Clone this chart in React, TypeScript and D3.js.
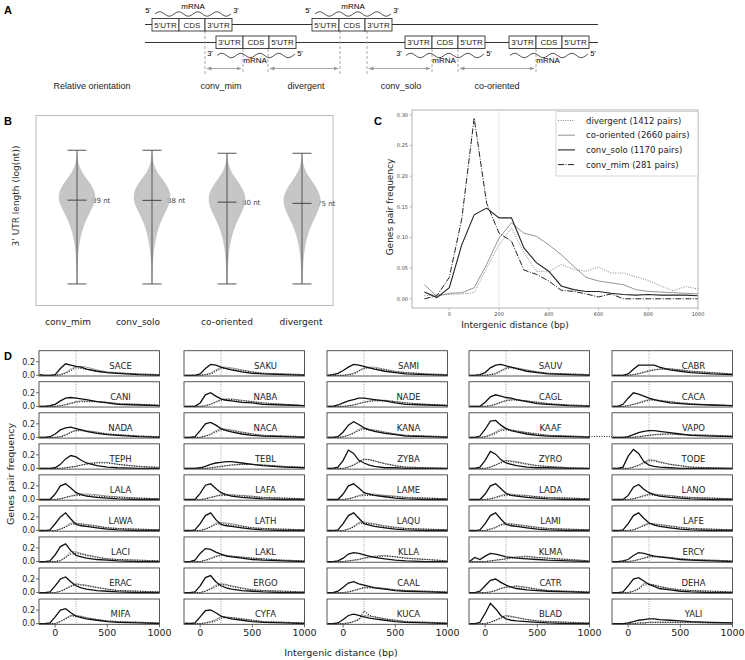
import React from "react";
import * as d3 from "d3";

// ---------- Panel B data ----------
const B_CATS = ["conv_mim", "conv_solo", "co-oriented", "divergent"];
const B_MEDIAN_NT = [89, 88, 80, 75];
const B_MAX_LOG = [3.11, 3.11, 3.04, 3.04];
const B_MIN_LOG = [0, 0, 0, 0];
const B_LEVELS = [0, 0.4, 0.8, 1.0, 1.2, 1.4, 1.6, 1.8, 2.0, 2.2, 2.4, 2.6, 2.8, 3.0, 3.1];
const B_DENS_MIM = [0.02, 0.03, 0.08, 0.15, 0.25, 0.4, 0.6, 0.85, 1.0, 0.9, 0.6, 0.25, 0.06, 0.02, 0];
const B_DENS_SOLO = [0.02, 0.03, 0.1, 0.18, 0.28, 0.42, 0.62, 0.86, 1.0, 0.92, 0.62, 0.26, 0.07, 0.02, 0];
const B_DENS_COOR = [0.02, 0.04, 0.12, 0.2, 0.32, 0.48, 0.7, 0.92, 1.0, 0.85, 0.55, 0.22, 0.05, 0.01, 0];
const B_DENS_DIV = [0.02, 0.05, 0.13, 0.22, 0.35, 0.52, 0.75, 0.95, 1.0, 0.82, 0.52, 0.2, 0.05, 0.01, 0];
const B_DENS = [B_DENS_MIM, B_DENS_SOLO, B_DENS_COOR, B_DENS_DIV];

// ---------- Panel C data ----------
const C_X = [-100, -50, 0, 50, 100, 150, 200, 250, 300, 350, 400, 450, 500, 550, 600, 650, 700, 750, 800, 850, 900, 950, 1000];
const C_DIVERGENT = [0.005, 0.007, 0.007, 0.008, 0.010, 0.050, 0.088, 0.116, 0.075, 0.045, 0.044, 0.056, 0.048, 0.045, 0.052, 0.042, 0.042, 0.036, 0.030, 0.021, 0.013, 0.020, 0.016];
const C_COORIENTED = [0.023, 0.004, 0.009, 0.010, 0.018, 0.056, 0.099, 0.124, 0.107, 0.102, 0.088, 0.072, 0.053, 0.035, 0.029, 0.026, 0.023, 0.015, 0.012, 0.011, 0.010, 0.009, 0.008];
const C_CONV_SOLO = [0.011, 0.002, 0.018, 0.088, 0.137, 0.148, 0.132, 0.132, 0.083, 0.059, 0.045, 0.021, 0.015, 0.012, 0.012, 0.009, 0.007, 0.006, 0.007, 0.006, 0.006, 0.006, 0.005];
const C_CONV_MIM = [0.0, 0.005, 0.035, 0.13, 0.295, 0.156, 0.107, 0.094, 0.047, 0.040, 0.029, 0.014, 0.012, 0.008, 0.003, 0.008, 0.0, 0.0, 0.0, 0.0, 0.0, 0.0, 0.0];
const C_LEGEND = ["divergent (1412 pairs)", "co-oriented (2660 pairs)", "conv_solo (1170 pairs)", "conv_mim (281 pairs)"];
const C_XTICKS = [0, 200, 400, 600, 800, 1000];
const C_YTICKS = [0, 0.05, 0.1, 0.15, 0.2, 0.25, 0.3];

// ---------- Panel D data (frequency in %) ----------
const D_X = [-150, -100, -50, 0, 50, 100, 150, 200, 250, 300, 400, 500, 600, 800, 1000];
const D_SPECIES = [
  "SACE", "SAKU", "SAMI", "SAUV", "CABR",
  "CANI", "NABA", "NADE", "CAGL", "CACA",
  "NADA", "NACA", "KANA", "KAAF", "VAPO",
  "TEPH", "TEBL", "ZYBA", "ZYRO", "TODE",
  "LALA", "LAFA", "LAME", "LADA", "LANO",
  "LAWA", "LATH", "LAQU", "LAMI", "LAFE",
  "LACI", "LAKL", "KLLA", "KLMA", "ERCY",
  "ERAC", "ERGO", "CAAL", "CATR", "DEHA",
  "MIFA", "CYFA", "KUCA", "BLAD", "YALI",
];
const D_CONV = [
  [1, 0, 0, 1, 10, 17, 15, 13, 12, 9, 6, 4, 3, 1, 0],
  [0, 0, 0, 2, 10, 16, 15, 12, 10, 8, 5, 3, 2, 1, 0],
  [0, 1, 3, 7, 12, 16, 15, 13, 11, 9, 6, 4, 2, 1, 0],
  [0, 0, 1, 4, 11, 15, 16, 14, 12, 10, 6, 4, 2, 1, 0],
  [0, 0, 0, 2, 9, 15, 15, 15, 15, 12, 8, 6, 4, 2, 1],
  [0, 0, 1, 3, 8, 12, 13, 12, 11, 10, 7, 5, 3, 2, 1],
  [0, 0, 0, 5, 17, 20, 15, 11, 9, 8, 6, 5, 3, 2, 1],
  [0, 0, 2, 5, 8, 10, 12, 12, 11, 10, 8, 5, 3, 2, 1],
  [0, 0, 0, 6, 14, 17, 15, 13, 12, 10, 7, 4, 3, 1, 0],
  [0, 0, 3, 12, 20, 18, 15, 12, 10, 8, 5, 4, 3, 2, 1],
  [0, 0, 1, 5, 11, 14, 15, 13, 11, 9, 6, 4, 3, 1, 0],
  [0, 0, 1, 10, 20, 22, 18, 13, 10, 8, 5, 3, 2, 1, 0],
  [0, 0, 1, 8, 18, 23, 19, 14, 11, 9, 6, 4, 2, 1, 0],
  [0, 0, 2, 12, 24, 25, 18, 13, 10, 8, 5, 3, 2, 1, 0],
  [0, 0, 0, 1, 4, 7, 9, 10, 10, 9, 7, 5, 3, 2, 1],
  [0, 0, 0, 1, 6, 14, 19, 17, 12, 8, 4, 2, 1, 0, 0],
  [0, 0, 0, 1, 3, 6, 8, 9, 10, 10, 8, 6, 4, 2, 1],
  [0, 0, 2, 12, 27, 22, 12, 8, 5, 3, 1, 1, 0, 0, 0],
  [0, 0, 2, 12, 25, 21, 13, 8, 6, 4, 2, 1, 1, 0, 0],
  [0, 0, 2, 18, 28, 22, 10, 5, 3, 2, 1, 0, 0, 0, 0],
  [0, 0, 0, 8, 20, 23, 17, 10, 7, 5, 3, 2, 1, 0, 0],
  [0, 0, 0, 9, 21, 23, 16, 10, 7, 5, 3, 2, 1, 0, 0],
  [0, 0, 0, 8, 20, 23, 17, 10, 8, 6, 4, 2, 1, 0, 0],
  [0, 0, 0, 8, 20, 23, 16, 9, 6, 5, 3, 2, 1, 0, 0],
  [0, 0, 0, 6, 18, 22, 15, 10, 7, 5, 3, 2, 1, 0, 0],
  [0, 0, 1, 10, 20, 26, 17, 9, 7, 6, 4, 2, 1, 0, 0],
  [0, 0, 1, 10, 22, 26, 16, 9, 7, 6, 4, 2, 1, 0, 0],
  [0, 0, 1, 10, 22, 26, 18, 10, 8, 6, 4, 2, 1, 0, 0],
  [0, 0, 1, 10, 22, 26, 17, 9, 7, 6, 4, 2, 1, 0, 0],
  [0, 0, 1, 10, 22, 26, 18, 11, 8, 6, 4, 2, 1, 0, 0],
  [0, 0, 1, 10, 22, 26, 16, 9, 7, 5, 3, 2, 1, 0, 0],
  [0, 0, 2, 12, 19, 18, 14, 11, 8, 7, 5, 3, 2, 1, 0],
  [0, 0, 1, 5, 11, 13, 12, 10, 8, 6, 4, 2, 1, 0, 0],
  [0, 6, 3, 8, 12, 11, 9, 7, 6, 5, 4, 3, 2, 1, 0],
  [0, 0, 1, 3, 9, 13, 12, 10, 8, 7, 5, 3, 2, 1, 0],
  [0, 0, 1, 10, 20, 23, 16, 10, 7, 5, 3, 2, 1, 0, 0],
  [0, 0, 1, 10, 22, 25, 16, 10, 7, 5, 3, 2, 1, 0, 0],
  [0, 0, 2, 8, 14, 16, 13, 11, 9, 7, 5, 3, 2, 1, 0],
  [0, 0, 2, 10, 18, 20, 15, 11, 8, 6, 4, 3, 2, 1, 0],
  [0, 0, 1, 10, 20, 22, 17, 12, 9, 6, 4, 2, 1, 0, 0],
  [0, 0, 1, 10, 20, 22, 16, 11, 9, 7, 5, 3, 2, 1, 0],
  [0, 0, 1, 10, 19, 20, 16, 11, 9, 7, 5, 3, 2, 1, 0],
  [0, 0, 1, 6, 12, 14, 12, 10, 8, 7, 5, 3, 2, 1, 0],
  [0, 0, 2, 15, 30, 22, 12, 7, 5, 4, 3, 2, 1, 0, 0],
  [0, 0, 0, 1, 3, 5, 6, 7, 7, 6, 5, 4, 3, 2, 1],
];
const D_COOR = [
  [0, 0, 0, 0, 1, 4, 9, 13, 13, 12, 8, 5, 4, 2, 1],
  [0, 0, 0, 0, 1, 3, 8, 12, 12, 11, 8, 5, 3, 2, 1],
  [0, 0, 0, 0, 1, 3, 7, 11, 12, 12, 9, 6, 4, 2, 1],
  [0, 0, 0, 0, 1, 3, 7, 11, 12, 11, 8, 5, 3, 2, 1],
  [0, 0, 0, 0, 1, 2, 4, 6, 8, 9, 10, 8, 6, 4, 2],
  [0, 0, 0, 0, 1, 3, 5, 7, 8, 8, 7, 6, 4, 3, 1],
  [0, 0, 0, 0, 1, 3, 7, 10, 11, 11, 9, 7, 5, 3, 1],
  [0, 0, 0, 0, 1, 2, 4, 6, 8, 9, 9, 7, 5, 3, 1],
  [0, 0, 0, 0, 1, 3, 6, 9, 10, 10, 8, 6, 4, 2, 1],
  [0, 0, 0, 1, 3, 5, 8, 10, 10, 9, 7, 5, 4, 2, 1],
  [0, 0, 0, 0, 1, 4, 8, 11, 11, 10, 8, 5, 4, 2, 1],
  [0, 0, 0, 0, 2, 5, 10, 13, 12, 11, 8, 5, 3, 2, 1],
  [0, 0, 0, 1, 3, 7, 12, 14, 12, 11, 8, 5, 3, 2, 1],
  [0, 0, 0, 1, 4, 8, 12, 13, 11, 10, 7, 5, 3, 2, 1],
  [0, 0, 0, 0, 0, 1, 2, 3, 4, 5, 5, 4, 4, 3, 2],
  [0, 0, 0, 0, 0, 1, 2, 3, 5, 7, 9, 9, 6, 3, 1],
  [0, 0, 0, 0, 0, 1, 2, 3, 4, 5, 6, 6, 5, 3, 1],
  [0, 0, 0, 0, 2, 5, 10, 14, 13, 11, 7, 4, 2, 1, 0],
  [0, 0, 0, 0, 2, 5, 9, 12, 11, 10, 7, 4, 3, 1, 0],
  [0, 0, 0, 0, 2, 5, 9, 13, 12, 10, 6, 4, 2, 1, 0],
  [0, 0, 0, 0, 1, 3, 5, 7, 8, 8, 7, 5, 4, 2, 1],
  [0, 0, 0, 0, 1, 3, 5, 7, 7, 7, 6, 5, 3, 2, 1],
  [0, 0, 0, 0, 1, 3, 6, 8, 8, 8, 6, 5, 3, 2, 1],
  [0, 0, 0, 0, 1, 3, 6, 8, 8, 7, 6, 4, 3, 2, 1],
  [0, 0, 0, 0, 1, 3, 6, 8, 8, 7, 6, 4, 3, 2, 1],
  [0, 0, 0, 0, 2, 6, 11, 11, 10, 9, 7, 4, 3, 2, 1],
  [0, 0, 0, 0, 2, 6, 11, 12, 11, 10, 7, 4, 3, 2, 1],
  [0, 0, 0, 0, 2, 6, 12, 13, 11, 10, 7, 5, 3, 2, 1],
  [0, 0, 0, 0, 2, 5, 9, 11, 10, 9, 7, 5, 3, 2, 1],
  [0, 0, 0, 0, 1, 4, 8, 11, 10, 9, 7, 5, 3, 2, 1],
  [0, 0, 0, 0, 1, 6, 15, 14, 12, 10, 7, 4, 3, 2, 1],
  [0, 0, 0, 0, 2, 5, 8, 10, 9, 8, 7, 5, 4, 2, 1],
  [0, 0, 0, 0, 1, 2, 3, 5, 7, 8, 9, 7, 5, 3, 1],
  [0, 0, 0, 0, 1, 2, 3, 4, 6, 7, 8, 6, 5, 3, 1],
  [0, 0, 0, 0, 1, 3, 5, 8, 8, 7, 6, 4, 3, 2, 1],
  [0, 0, 0, 0, 2, 6, 10, 13, 12, 11, 8, 5, 3, 2, 1],
  [0, 0, 0, 0, 2, 6, 11, 13, 12, 10, 7, 4, 3, 2, 1],
  [0, 0, 0, 0, 1, 3, 5, 8, 8, 8, 6, 4, 3, 2, 1],
  [0, 0, 0, 0, 1, 3, 6, 8, 9, 10, 8, 5, 3, 2, 1],
  [0, 0, 0, 0, 2, 6, 14, 13, 11, 9, 6, 4, 3, 2, 1],
  [0, 0, 0, 0, 3, 8, 12, 12, 11, 9, 6, 4, 3, 2, 1],
  [2, 1, 0, 0, 1, 3, 6, 10, 10, 9, 7, 5, 3, 2, 1],
  [0, 0, 0, 0, 1, 3, 6, 12, 11, 10, 7, 5, 3, 2, 1],
  [0, 0, 0, 0, 2, 5, 9, 12, 11, 9, 6, 4, 3, 2, 1],
  [0, 0, 0, 0, 0, 1, 1, 2, 2, 2, 2, 2, 2, 1, 1],
];
const D_DIV = [
  [0, 0, 0, 0, 1, 3, 7, 11, 10, 9, 6, 4, 3, 2, 1],
  [0, 0, 0, 0, 1, 2, 6, 10, 10, 9, 7, 5, 3, 2, 1],
  [0, 0, 0, 0, 1, 2, 6, 10, 11, 10, 8, 5, 4, 2, 1],
  [0, 0, 0, 0, 1, 2, 6, 10, 11, 10, 7, 5, 3, 2, 1],
  [0, 0, 0, 0, 1, 3, 5, 7, 8, 9, 9, 8, 6, 4, 2],
  [0, 0, 0, 0, 1, 2, 4, 6, 7, 7, 7, 6, 4, 3, 2],
  [0, 0, 0, 0, 1, 3, 6, 9, 10, 10, 8, 7, 5, 3, 1],
  [0, 0, 0, 0, 1, 2, 4, 6, 7, 8, 8, 7, 5, 3, 2],
  [0, 0, 0, 0, 1, 3, 6, 8, 9, 9, 8, 6, 4, 2, 1],
  [0, 0, 0, 1, 3, 5, 7, 9, 9, 8, 7, 5, 4, 2, 1],
  [0, 0, 0, 0, 1, 3, 7, 10, 10, 9, 7, 5, 4, 2, 1],
  [0, 0, 0, 0, 2, 4, 8, 11, 11, 10, 7, 5, 3, 2, 1],
  [0, 0, 0, 1, 3, 6, 10, 12, 11, 10, 7, 5, 3, 2, 1],
  [0, 0, 0, 1, 3, 6, 10, 11, 10, 9, 7, 5, 3, 2, 1],
  [0, 0, 0, 0, 0, 1, 2, 3, 4, 4, 5, 4, 4, 3, 2],
  [0, 0, 0, 0, 0, 1, 2, 3, 5, 6, 8, 8, 6, 3, 2],
  [0, 0, 0, 0, 0, 1, 2, 3, 4, 5, 6, 6, 5, 3, 2],
  [0, 0, 0, 0, 2, 5, 9, 13, 13, 11, 7, 4, 2, 1, 0],
  [0, 0, 0, 0, 2, 5, 8, 11, 10, 9, 6, 4, 3, 1, 0],
  [0, 0, 0, 0, 2, 4, 8, 11, 11, 9, 6, 4, 2, 1, 0],
  [0, 0, 0, 0, 1, 3, 5, 6, 6, 6, 5, 4, 3, 2, 1],
  [0, 0, 0, 0, 1, 3, 5, 6, 6, 6, 5, 4, 3, 2, 1],
  [0, 0, 0, 0, 1, 3, 5, 6, 6, 6, 5, 4, 3, 2, 1],
  [0, 0, 0, 0, 1, 3, 5, 6, 6, 6, 5, 4, 3, 2, 1],
  [0, 0, 0, 0, 1, 3, 5, 7, 6, 6, 5, 4, 3, 2, 1],
  [0, 0, 0, 0, 2, 5, 9, 10, 9, 8, 6, 4, 3, 2, 1],
  [0, 0, 0, 0, 2, 5, 9, 10, 9, 8, 6, 4, 3, 2, 1],
  [0, 0, 0, 0, 2, 5, 10, 11, 10, 9, 6, 4, 3, 2, 1],
  [0, 0, 0, 0, 2, 4, 8, 9, 9, 8, 6, 4, 3, 2, 1],
  [0, 0, 0, 0, 1, 4, 7, 10, 9, 8, 6, 4, 3, 2, 1],
  [0, 0, 0, 0, 2, 6, 11, 12, 11, 9, 6, 4, 3, 2, 1],
  [0, 0, 0, 0, 2, 4, 7, 9, 9, 8, 6, 5, 4, 2, 1],
  [0, 0, 0, 0, 1, 2, 3, 5, 6, 7, 8, 7, 5, 3, 1],
  [0, 0, 0, 0, 1, 2, 3, 4, 5, 6, 7, 6, 5, 3, 1],
  [0, 0, 0, 0, 1, 3, 5, 7, 7, 7, 6, 4, 3, 2, 1],
  [0, 0, 0, 0, 2, 5, 9, 12, 11, 10, 7, 5, 3, 2, 1],
  [0, 0, 0, 0, 2, 5, 9, 12, 11, 9, 6, 4, 3, 2, 1],
  [0, 0, 0, 0, 1, 3, 5, 7, 7, 7, 6, 4, 3, 2, 1],
  [0, 0, 0, 0, 1, 3, 6, 8, 8, 9, 7, 5, 3, 2, 1],
  [0, 0, 0, 0, 2, 5, 11, 12, 11, 9, 6, 4, 3, 2, 1],
  [0, 0, 0, 0, 3, 7, 11, 11, 10, 8, 6, 4, 3, 2, 1],
  [0, 0, 0, 0, 1, 2, 4, 8, 9, 9, 7, 5, 3, 2, 1],
  [0, 0, 0, 0, 1, 3, 6, 19, 12, 10, 7, 5, 3, 2, 1],
  [0, 0, 0, 0, 2, 5, 8, 11, 10, 9, 6, 4, 3, 2, 1],
  [0, 0, 0, 0, 0, 1, 1, 2, 2, 2, 2, 2, 2, 1, 1],
];
const D_XTICKS = [0, 500, 1000];
const D_YTICKS = [0, 0.2];

// ---------- Panel A schematic ----------
const A_TOP_GENES = [152, 312];
const A_BOT_GENES = [216, 405, 509];
const A_TOP_LABELS = ["5'UTR", "CDS", "3'UTR"];
const A_BOT_LABELS = ["3'UTR", "CDS", "5'UTR"];
const A_ORIENT = ["conv_mim", "divergent", "conv_solo", "co-oriented"];
const A_SPANS = [[205, 243], [268, 340], [367, 432], [458, 536]];

const SANS = "'Liberation Sans', Arial, sans-serif";
const DV = "'DejaVu Sans', sans-serif";

function wave(x0: number, x1: number, y: number, amp = 2.2, period = 19) {
  let d = `M${x0},${y}`;
  for (let x = x0 + 1; x <= x1; x += 1) {
    d += `L${x},${(y - amp * Math.sin(((x - x0) / period) * 2 * Math.PI)).toFixed(2)}`;
  }
  return d;
}

function Gene({ x, y, labels }: { x: number; y: number; labels: string[] }) {
  const ws = [27, 26, 27];
  let cx = x;
  return (
    <g>
      {labels.map((l, i) => {
        const x0 = cx;
        cx += ws[i];
        return (
          <g key={i}>
            <rect x={x0} y={y} width={ws[i]} height={12.5} fill="#fff" stroke="#333" strokeWidth={0.9} />
            <text x={x0 + ws[i] / 2} y={y + 9.3} fontSize={8} textAnchor="middle" fontFamily={SANS} fill="#222">{l}</text>
          </g>
        );
      })}
    </g>
  );
}

function PanelA() {
  const dashXs = [[205, 31], [243, 49], [268, 49], [340, 31], [367, 31], [432, 49], [458, 49], [536, 49]];
  return (
    <g>
      <text x={4} y={14} fontSize={11} fontWeight="bold" fontFamily={SANS}>A</text>
      <line x1={145} x2={598} y1={24.5} y2={24.5} stroke="#333" strokeWidth={1.2} />
      <line x1={145} x2={598} y1={42.5} y2={42.5} stroke="#333" strokeWidth={1.2} />
      {dashXs.map(([x, y0], i) => (
        <line key={i} x1={x} x2={x} y1={y0} y2={74} stroke="#aaa" strokeWidth={1} strokeDasharray="3,2" />
      ))}
      {A_TOP_GENES.map((x, i) => (
        <g key={i}>
          <Gene x={x} y={18.5} labels={A_TOP_LABELS} />
          <path d={wave(x + 3, x + 79, 14)} fill="none" stroke="#444" strokeWidth={0.9} />
          <text x={x - 4} y={13} fontSize={7.5} fontFamily={SANS} textAnchor="middle">5'</text>
          <text x={x + 84} y={13} fontSize={7.5} fontFamily={SANS} textAnchor="middle">3'</text>
          <text x={x + 41} y={8.5} fontSize={8} fontFamily={SANS} textAnchor="middle">mRNA</text>
        </g>
      ))}
      {A_BOT_GENES.map((x, i) => (
        <g key={i}>
          <Gene x={x} y={36} labels={A_BOT_LABELS} />
          <path d={wave(x + 1, x + 79, 55.5, 2.2, 19)} fill="none" stroke="#444" strokeWidth={0.9} />
          {i < 2 && <text x={x - 6} y={56} fontSize={7.5} fontFamily={SANS} textAnchor="middle">3'</text>}
          <text x={x + 84} y={56} fontSize={7.5} fontFamily={SANS} textAnchor="middle">5'</text>
          <text x={x + 39} y={62.5} fontSize={8} fontFamily={SANS} textAnchor="middle">mRNA</text>
        </g>
      ))}
      <defs>
        <marker id="arr" viewBox="0 0 10 10" refX="9" refY="5" markerWidth="5" markerHeight="5" orient="auto-start-reverse">
          <path d="M0,1 L10,5 L0,9 z" fill="#999" />
        </marker>
      </defs>
      {A_SPANS.map(([a, b], i) => (
        <line key={i} x1={a + 2} x2={b - 2} y1={68.5} y2={68.5} stroke="#aaa" strokeWidth={1} markerStart="url(#arr)" markerEnd="url(#arr)" />
      ))}
      <text x={92} y={89} fontSize={9} fontFamily={SANS} textAnchor="middle" fill="#222">Relative orientation</text>
      {A_ORIENT.map((t, i) => (
        <text key={t} x={[221, 306, 401, 497][i]} y={89} fontSize={9} fontFamily={SANS} textAnchor="middle" fill="#222">{t}</text>
      ))}
    </g>
  );
}

function PanelB() {
  const x = d3.scalePoint<string>().domain(B_CATS).range([77, 302]);
  const y = d3.scaleLinear().domain([-0.49, 3.93]).range([305, 115]);
  const halfW = 19;
  const labelXs = [68, 138, 227, 301];
  return (
    <g>
      <text x={4} y={125} fontSize={11} fontWeight="bold" fontFamily={SANS}>B</text>
      <rect x={36} y={115.5} width={297} height={190} fill="none" stroke="#bbb" strokeWidth={1} />
      <text transform="translate(19,196) rotate(-90)" fontSize={9} fontFamily={DV} textAnchor="middle" fill="#333">3' UTR length (log(nt))</text>
      {B_CATS.map((c, i) => {
        const cx = x(c)!;
        const medY = y(Math.log10(B_MEDIAN_NT[i]));
        const area = d3
          .area<number>()
          .y((_, j) => y(B_LEVELS[j]))
          .x0((d) => cx - d * halfW)
          .x1((d) => cx + d * halfW)
          .curve(d3.curveBasis)(B_DENS[i]);
        return (
          <g key={c}>
            <text x={cx + 15} y={medY + 2.5} fontSize={7} fontFamily={DV} fill="#444">{B_MEDIAN_NT[i]} nt</text>
            <path d={area!} fill="#bdbdbd" fillOpacity={0.86} stroke="none" />
            <line x1={cx} x2={cx} y1={y(B_MAX_LOG[i])} y2={y(B_MIN_LOG[i])} stroke="#555" strokeWidth={1} />
            <line x1={cx - 9.5} x2={cx + 9.5} y1={y(B_MAX_LOG[i])} y2={y(B_MAX_LOG[i])} stroke="#555" strokeWidth={1} />
            <line x1={cx - 9.5} x2={cx + 9.5} y1={y(B_MIN_LOG[i])} y2={y(B_MIN_LOG[i])} stroke="#555" strokeWidth={1} />
            <line x1={cx - 9.5} x2={cx + 9.5} y1={medY} y2={medY} stroke="#444" strokeWidth={1} />
            <text x={labelXs[i]} y={325} fontSize={9} fontFamily={DV} textAnchor="middle" fill="#222">{c}</text>
          </g>
        );
      })}
    </g>
  );
}

function PanelC() {
  const x = d3.scaleLinear().domain([-150, 1000]).range([412, 698]);
  const y = d3.scaleLinear().domain([-0.015, 0.308]).range([308, 110]);
  const line = d3.line<number>().x((_, i) => x(C_X[i])).y((d) => y(d));
  const series = [
    { d: C_DIVERGENT, stroke: "#777", w: 0.9, dash: "1,1.4" },
    { d: C_COORIENTED, stroke: "#888", w: 0.9, dash: "" },
    { d: C_CONV_SOLO, stroke: "#222", w: 1.1, dash: "" },
    { d: C_CONV_MIM, stroke: "#222", w: 1.0, dash: "6,1.5,1,1.5" },
  ];
  return (
    <g>
      <text x={374} y={125} fontSize={11} fontWeight="bold" fontFamily={SANS}>C</text>
      <line x1={x(200)} x2={x(200)} y1={110} y2={308} stroke="#ccc" strokeWidth={0.8} strokeDasharray="1,1" />
      {series.map((s, i) => (
        <path key={i} d={line(s.d)!} fill="none" stroke={s.stroke} strokeWidth={s.w} strokeDasharray={s.dash || undefined} />
      ))}
      <rect x={412} y={110} width={286} height={198} fill="none" stroke="#aaa" strokeWidth={0.9} />
      {C_YTICKS.map((t) => (
        <g key={t}>
          <line x1={409.5} x2={412} y1={y(t)} y2={y(t)} stroke="#999" strokeWidth={0.6} />
          <text x={408} y={y(t) + 1.7} fontSize={5} fontFamily={DV} textAnchor="end" fill="#444">{t.toFixed(2)}</text>
        </g>
      ))}
      {C_XTICKS.map((t) => (
        <g key={t}>
          <line x1={x(t)} x2={x(t)} y1={308} y2={310.5} stroke="#999" strokeWidth={0.6} />
          <text x={x(t)} y={315.5} fontSize={5} fontFamily={DV} textAnchor="middle" fill="#444">{t}</text>
        </g>
      ))}
      <text x={515} y={328} fontSize={9} fontFamily={DV} textAnchor="middle" fill="#222">Intergenic distance (bp)</text>
      <text transform="translate(393,207) rotate(-90)" fontSize={9} fontFamily={DV} textAnchor="middle" fill="#222">Genes pair frequency</text>
      <rect x={556} y={111.5} width={142} height={64.5} fill="#fff" fillOpacity={0.85} stroke="#ccc" strokeWidth={0.8} />
      {C_LEGEND.map((t, i) => (
        <g key={t}>
          <line x1={558} x2={575} y1={120.5 + i * 14.7} y2={120.5 + i * 14.7} stroke={series[i].stroke} strokeWidth={series[i].w} strokeDasharray={series[i].dash || undefined} />
          <text x={586} y={123.5 + i * 14.7} fontSize={8.5} fontFamily={DV} fill="#222">{t}</text>
        </g>
      ))}
    </g>
  );
}

function PanelD() {
  const lefts = [39, 184, 327, 469, 612];
  const pw = 120.5;
  const ph = 25.3;
  const top0 = 350.7;
  const pitch = 31.04;
  return (
    <g>
      <text x={4} y={360} fontSize={11} fontWeight="bold" fontFamily={SANS}>D</text>
      <text transform="translate(14,474) rotate(-90)" fontSize={9.5} fontFamily={DV} textAnchor="middle" fill="#222">Genes pair frequency</text>
      <text x={341} y={656} fontSize={9.5} fontFamily={DV} textAnchor="middle" fill="#222">Intergenic distance (bp)</text>
      <line x1={589} x2={612} y1={436.5} y2={436.5} stroke="#222" strokeWidth={1.1} strokeDasharray="1,1.5" />
      {D_SPECIES.map((sp, i) => {
        const col = i % 5;
        const row = Math.floor(i / 5);
        const left = lefts[col];
        const top = top0 + row * pitch;
        const x = d3.scaleLinear().domain([-155, 1000]).range([left, left + pw]);
        const y = d3.scaleLinear().domain([-0.01, 0.362]).range([top + ph, top]);
        const line = d3.line<number>().x((_, j) => x(D_X[j])).y((d) => y(d / 100));
        return (
          <g key={sp}>
            <line x1={x(200)} x2={x(200)} y1={top} y2={top + ph} stroke="#999" strokeWidth={0.9} strokeDasharray="1,1.3" />
            <text x={left + 81.5} y={top + 18} fontSize={8.5} fontFamily={DV} textAnchor="middle" fill="#222">{sp}</text>
            <path d={line(D_COOR[i])!} fill="none" stroke="#999" strokeWidth={1} />
            <path d={line(D_DIV[i])!} fill="none" stroke="#222" strokeWidth={1.2} strokeDasharray="1,1.5" />
            <path d={line(D_CONV[i])!} fill="none" stroke="#111" strokeWidth={1.3} />
            <rect x={left} y={top} width={pw} height={ph} fill="none" stroke="#444" strokeWidth={0.9} />
            {col === 0 &&
              D_YTICKS.map((t) => (
                <g key={t}>
                  <line x1={left - 3} x2={left} y1={y(t)} y2={y(t)} stroke="#444" strokeWidth={0.8} />
                  <text x={left - 4} y={y(t) + 2.8} fontSize={8} fontFamily={DV} textAnchor="end" fill="#222">{t.toFixed(1)}</text>
                </g>
              ))}
            {row === 8 &&
              D_XTICKS.map((t) => (
                <g key={t}>
                  <line x1={x(t)} x2={x(t)} y1={top + ph} y2={top + ph + 3} stroke="#444" strokeWidth={0.8} />
                  <text x={x(t)} y={top + ph + 11.5} fontSize={9.5} fontFamily={DV} textAnchor="middle" fill="#222">{t}</text>
                </g>
              ))}
          </g>
        );
      })}
    </g>
  );
}

export default function App() {
  return (
    <svg width={745} height={660} style={{ position: "absolute", left: 0, top: 0, background: "#fff" }}>
      <rect width={745} height={660} fill="#fff" />
      <PanelA />
      <PanelB />
      <PanelC />
      <PanelD />
    </svg>
  );
}
